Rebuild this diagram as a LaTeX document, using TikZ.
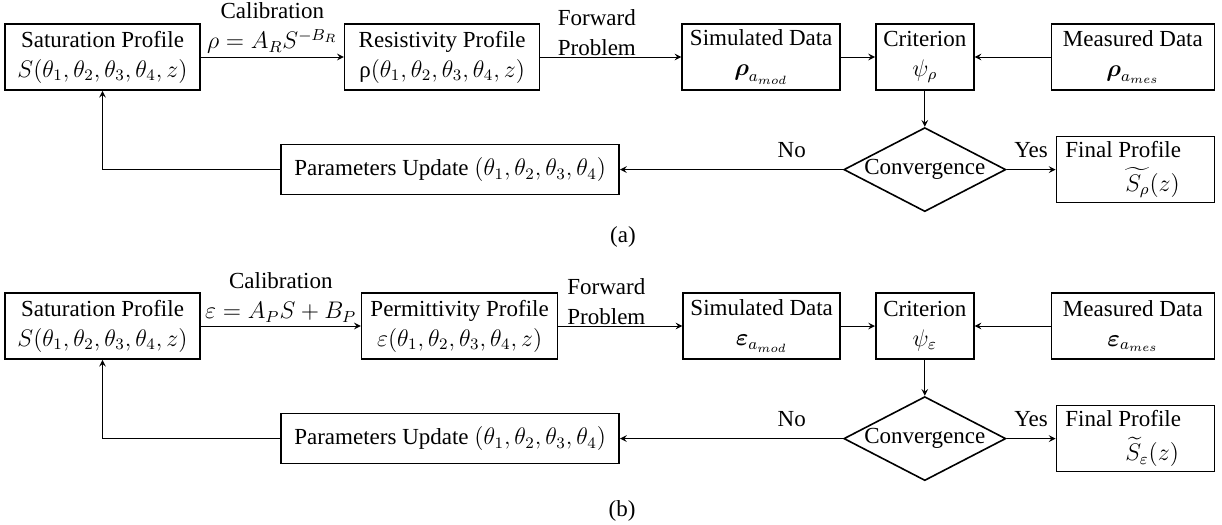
\documentclass[tikz,border=0pt]{standalone}
\usepackage{fontspec}
\setmainfont{Liberation Serif}
\usepackage{amsmath}
\usetikzlibrary{arrows,positioning,shapes.geometric}

\begin{document}
\begin{tikzpicture}[x=0.5pt, y=0.5pt, ->, >=stealth, line width=0.5pt,
	every node/.style={font=\fontsize{11.5}{15}\selectfont},
	block/.style={rectangle, draw, line width=0.8pt, minimum height=33pt, align=center, inner sep=2pt},
	decision/.style={diamond, draw, line width=0.8pt, aspect=2, minimum width=81pt, minimum height=42pt, inner sep=0pt, inner xsep=-3pt},
	lbl/.style={above, align=center, inner sep=1.5pt}]

	\useasboundingbox (0,0) rectangle (1222,-525);

	% (a) resistivity
	\node[block, minimum width=97.5pt] (satA) at (102.5,-57) {Saturation Profile\\ $S(\theta_1,\theta_2,\theta_3,\theta_4,z)$};
	\node[block, minimum width=97.5pt, right=71.5pt of satA] (resA) {Resistivity Profile\\ ρ$(\theta_1,\theta_2,\theta_3,\theta_4,z)$};
	\node[block, minimum width=79pt, right=70.5pt of resA] (simA) {Simulated Data\\ $\boldsymbol{\rho}_{a_{mod}}$};
	\node[block, minimum width=49pt, right=17pt of simA] (critA) {Criterion\\ $\psi_\rho$};
	\node[block, minimum width=81.5pt, right=38pt of critA] (measA) {Measured Data\\ $\boldsymbol{\rho}_{a_{mes}}$};
	\node[decision, below=18pt of critA] (convA) {Convergence};
	\node[block, minimum width=79pt, align=left, right=24.5pt of convA] (finA) {\makebox[70pt][l]{Final Profile}\\[2pt] \hspace*{30pt}$\widetilde{S_\rho}(z)$};
	\node[block, minimum width=169pt, minimum height=25pt, left=111.5pt of convA] (parA) {Parameters Update $(\theta_1,\theta_2,\theta_3,\theta_4)$};
	\node (capA) at (623,-237) {(a)};

	\path
	(satA) edge node[lbl] {Calibration\\ $\rho=A_RS^{-B_R}$} (resA)
	(resA) edge node[lbl, align=left, xshift=-7pt, yshift=-1pt] {Forward\\ Problem} (simA)
	(simA) edge (critA)
	(measA) edge (critA)
	(critA) edge (convA)
	(convA) edge node[lbl, pos=0.23, yshift=4pt] {No} (parA)
			edge node[lbl, yshift=4pt] {Yes} (finA);
	\draw (parA) -| (satA);

	% (b) permittivity
	\node[block, minimum width=97.5pt] (satB) at (102.5,-326) {Saturation Profile\\ $S(\theta_1,\theta_2,\theta_3,\theta_4,z)$};
	\node[block, minimum width=98pt, right=80pt of satB] (perB) {Permittivity Profile\\ $\varepsilon(\theta_1,\theta_2,\theta_3,\theta_4,z)$};
	\node[block, minimum width=78.5pt, right=62pt of perB] (simB) {Simulated Data\\ $\boldsymbol{\varepsilon}_{a_{mod}}$};
	\node[block, minimum width=49pt, right=17pt of simB] (critB) {Criterion\\ $\psi_\varepsilon$};
	\node[block, minimum width=81.5pt, right=38pt of critB] (measB) {Measured Data\\ $\boldsymbol{\varepsilon}_{a_{mes}}$};
	\node[decision, below=18pt of critB] (convB) {Convergence};
	\node[block, minimum width=79pt, align=left, right=24.5pt of convB] (finB) {\makebox[70pt][l]{Final Profile}\\[2pt] \hspace*{30pt}$\widetilde{S}_\varepsilon(z)$};
	\node[block, minimum width=169pt, minimum height=25pt, left=111.5pt of convB] (parB) {Parameters Update $(\theta_1,\theta_2,\theta_3,\theta_4)$};
	\node (capB) at (622,-511) {(b)};

	\path
	(satB) edge node[lbl] {Calibration\\ $\varepsilon=A_PS+B_P$} (perB)
	(perB) edge node[lbl, align=left, xshift=-7pt, yshift=-1pt] {Forward\\ Problem} (simB)
	(simB) edge (critB)
	(measB) edge (critB)
	(critB) edge (convB)
	(convB) edge node[lbl, pos=0.23, yshift=4pt] {No} (parB)
			edge node[lbl, yshift=4pt] {Yes} (finB);
	\draw (parB) -| (satB);

\end{tikzpicture}
\end{document}
